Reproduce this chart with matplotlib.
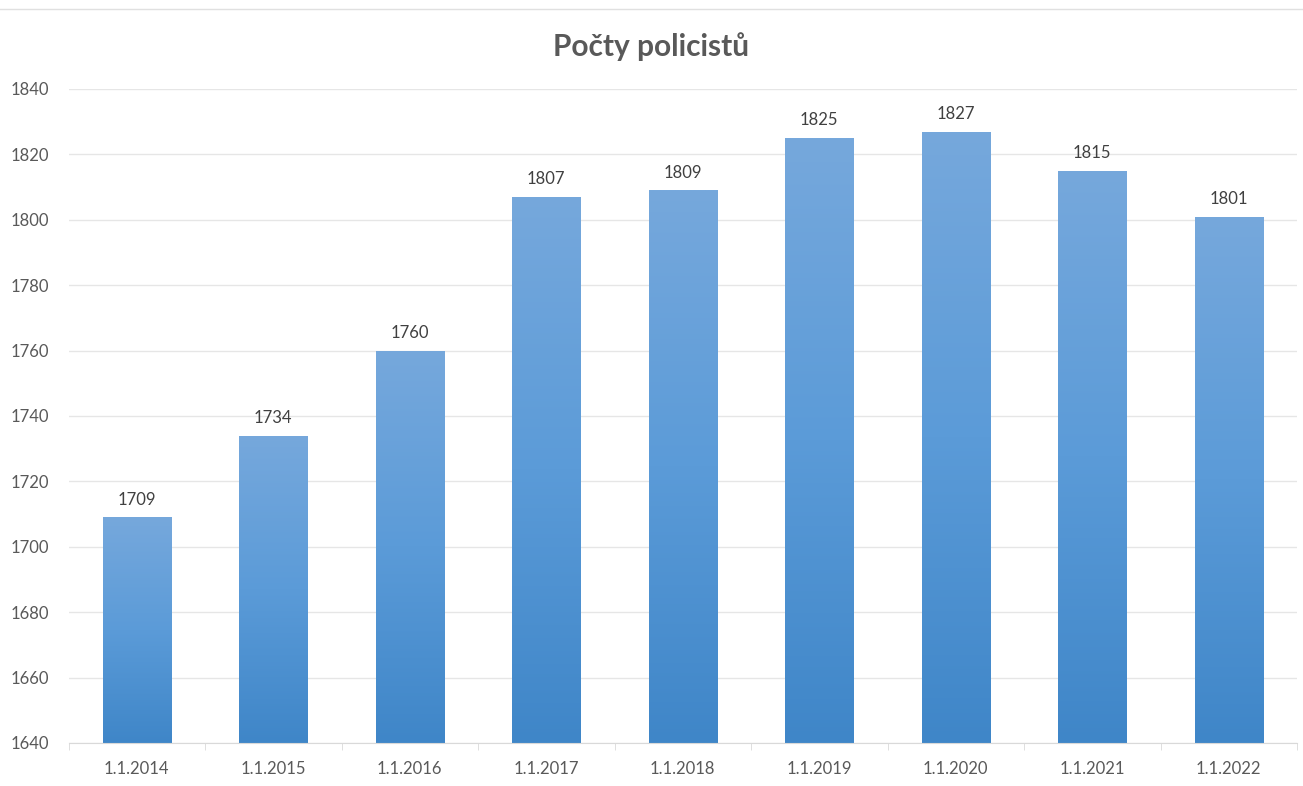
import numpy as np
import matplotlib.pyplot as plt
from matplotlib.colors import LinearSegmentedColormap
from matplotlib.lines import Line2D

# data
datumy = ['1.1.2014', '1.1.2015', '1.1.2016', '1.1.2017', '1.1.2018',
          '1.1.2019', '1.1.2020', '1.1.2021', '1.1.2022']
pocty = [1709, 1734, 1760, 1807, 1809, 1825, 1827, 1815, 1801]

plt.rcParams['font.family'] = ['Lato', 'DejaVu Sans']

fig = plt.figure(figsize=(13.03, 7.86), dpi=100)
ax = fig.add_axes([68.5 / 1303, 1 - 743 / 786, (1297 - 68.5) / 1303, (743 - 89) / 786])

ymin = 1640
x = np.arange(len(datumy))
w = 0.5

# gradient per bar (light at top, darker at bottom)
cmap = LinearSegmentedColormap.from_list('g', ['#3f86c8', '#5b9bd8', '#76a8dc'])
grad = np.linspace(0, 1, 256).reshape(-1, 1)

bars = ax.bar(x, np.array(pocty) - ymin, bottom=ymin, width=w, color='none', zorder=2)
for b, v in zip(bars, pocty):
    im = ax.imshow(grad, cmap=cmap, origin='lower', aspect='auto',
                   extent=[b.get_x(), b.get_x() + w, ymin, v], zorder=2)
    im.set_clip_path(b)
    ax.text(b.get_x() + w / 2, v + 3, str(v), ha='center', va='bottom',
            fontsize=12, color='#404040')

ax.set_xlim(-0.5, len(datumy) - 0.5)
ax.set_ylim(ymin, 1840)
ax.set_yticks(np.arange(1640, 1841, 20))
ax.set_xticks(x)
ax.set_xticklabels(datumy)
ax.set_xticks(np.arange(-0.5, len(datumy), 1), minor=True)
ax.tick_params(axis='x', which='major', length=0, pad=13, labelsize=12, labelcolor='#595959')
ax.tick_params(axis='x', which='minor', length=5, color='#d9d9d9', direction='out')
ax.tick_params(axis='y', length=0, pad=14, labelsize=12, labelcolor='#595959')

ax.grid(axis='y', color='#e6e6e6', linewidth=1, zorder=0)
ax.set_axisbelow(True)
for s in ['top', 'right', 'left']:
    ax.spines[s].set_visible(False)
ax.spines['bottom'].set_color('#d9d9d9')

fig.text(0.5, 1 - 47 / 786, 'Počty policistů', ha='center', va='center',
         fontsize=21.5, fontweight='bold', color='#595959')

# thin border line at the top
fig.add_artist(Line2D([0, 1], [1 - 9 / 786, 1 - 9 / 786], color='#e0e0e0', linewidth=1))

fig.savefig('out.png', dpi=100)
